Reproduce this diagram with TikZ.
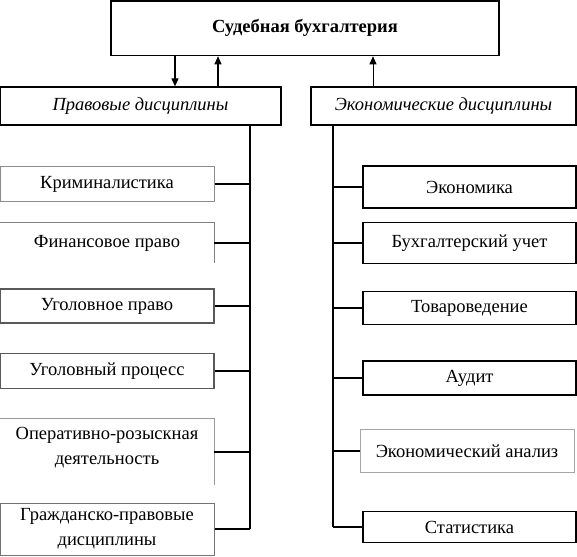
\documentclass[tikz,border=0pt]{standalone}
\usepackage{fontspec}
\setmainfont{Liberation Serif}
\usetikzlibrary{arrows.meta}
\begin{document}
\begin{tikzpicture}[x=1pt,y=-1pt,
  txt/.style={inner sep=0pt, align=center, font=\fontsize{18.5}{25}\selectfont},
  box/.style={txt, rectangle, draw=black, line width=1.3pt},
  gbox/.style={box, draw=black!45, line width=1pt},
  dbox/.style={box, draw=black!65, line width=1.1pt},
  frame/.style={rectangle, inner sep=0pt, draw=none},
  conn/.style={line width=1.6pt},
  arr/.style={line width=1.1pt, -{Triangle[length=8pt,width=7pt]}}]
\useasboundingbox (0,0) rectangle (577,556);
\fill[white] (0,0) rectangle (577,556);

% top and second level
\node[box, minimum width=388pt, minimum height=54.7pt, font=\fontsize{18.5}{25}\selectfont\bfseries] (top) at (305,28.3) {Судебная бухгалтерия};
\node[box, minimum width=281pt, minimum height=38pt, font=\fontsize{18.5}{25}\selectfont\itshape] (L) at (140.5,106) {Правовые дисциплины};
\node[box, minimum width=265pt, minimum height=38pt, font=\fontsize{18.5}{25}\selectfont\itshape] (R) at (443.5,106) {Экономические дисциплины};

\coordinate (a1) at (175,0);
\coordinate (a2) at (218,0);
\coordinate (a3) at (373,0);
\coordinate (lv) at (250,0);
\coordinate (rv) at (333,0);

\draw[arr] (top.south -| a1) -- (L.north -| a1);
\draw[arr] (L.north -| a2) -- (top.south -| a2);
\draw[arr, line width=0.9pt] (R.north -| a3) -- (top.south -| a3);

% left column
\node[gbox, minimum width=214pt, minimum height=35pt] (k1) at (107,184) {Криминалистика};
\node[frame, minimum width=214pt, minimum height=40pt] (k2) at (107,243) {};
\node[txt] (k2t) at (k2.center) {Финансовое право};
\draw[black!50, line width=1pt] (k2.south west) -- (k2.north west) -- (k2.north east) -- (k2.south east);
\node[dbox, minimum width=214pt, minimum height=34pt] (k3) at (107,306) {Уголовное право};
\node[dbox, minimum width=214pt, minimum height=35pt] (k4) at (107,371) {Уголовный процесс};
\node[frame, minimum width=214pt, minimum height=66pt] (k5) at (107,452) {};
\node[txt, yshift=4.5pt] (k5t) at (k5.center) {Оперативно-розыскная\\деятельность};
\draw[black!40, line width=1pt] (k5.south west) -- (k5.north west) -- (k5.north east) -- (k5.south east);
\node[gbox, draw=black!55, minimum width=214pt, minimum height=52pt] (k6) at (107,529) {Гражданско-правовые\\дисциплины};

% right column
\node[box, line width=1.5pt, minimum width=213pt, minimum height=41.6pt] (e1) at (469.5,187) {Экономика};
\node[box, line width=1.5pt, minimum width=213pt, minimum height=40.6pt] (e2) at (469.5,243) {Бухгалтерский учет};
\node[box, line width=1.5pt, minimum width=213pt, minimum height=33.3pt] (e3) at (469.5,308) {Товароведение};
\node[box, line width=1.5pt, minimum width=213pt, minimum height=34.3pt] (e4) at (469.5,378) {Аудит};
\node[gbox, draw=black!35, minimum width=214pt, minimum height=42.4pt] (e5) at (467,451) {Экономический анализ};
\node[box, line width=1.5pt, minimum width=213pt, minimum height=31pt] (e6) at (469.5,527) {Статистика};

% trunks
\draw[conn] (L.south -| lv) -- (k6.east -| lv);
\draw[conn] (R.south -| rv) -- (e6.west -| rv);

% branches
\foreach \n in {k1,k2,k3,k4,k5,k6}
  \draw[conn] (\n.east) -- (\n.east -| lv);
\foreach \n in {e1,e2,e3,e4,e5,e6}
  \draw[conn] (\n.west -| rv) -- (\n.west);
\end{tikzpicture}
\end{document}
